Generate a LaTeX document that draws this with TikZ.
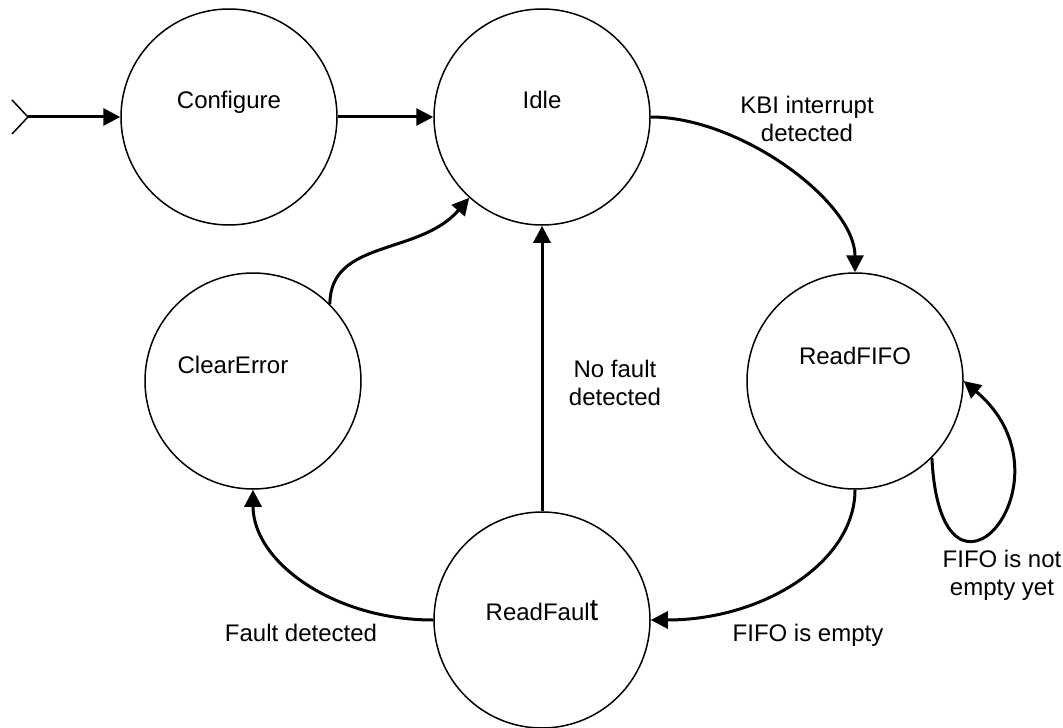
\documentclass[tikz,border=0pt]{standalone}
\usepackage{fontspec}
\setmainfont{Liberation Sans}
\usetikzlibrary{arrows.meta}
\tikzstyle{state} = [circle, minimum size=108pt, inner sep=0pt, draw=black, line width=0.75pt]
\tikzstyle{every label} = [font=\fontsize{12}{14}\selectfont]
\tikzstyle{edgelabel} = [align=center, inner sep=0pt, font=\fontsize{12}{14}\selectfont]
\tikzstyle{arrow} = [line width=1.5pt, -{Triangle[length=8.5pt, width=8.5pt]}]
\begin{document}
\begin{tikzpicture}[x=0.5pt, y=-0.5pt, node distance = 156.5pt]
  \useasboundingbox (0,0) rectangle (1063,727);
  \coordinate (entry) at (28,117);
  \node (configure) [state, label={[yshift=7.5pt]center:Configure}] at (229,117) {};
  \node (idle) [state, right of = configure, label={[yshift=8.5pt]center:Idle}] {};
  \node (readfifo) [state, right of = idle, yshift = -132pt, label={[yshift=12.5pt]center:ReadFIFO}] {};
  \node (clearerror) [state, below of = configure, xshift = 12pt, yshift = 24.5pt, label={[xshift=-10pt, yshift=8pt]center:ClearError}] {};
  \node (readfault) [state, below of = idle, yshift = -95pt, label={[yshift=4.5pt]center:ReadFaul{\fontsize{15.5}{15.5}\selectfont t}}] {};
  \node (kbi) [edgelabel] at (807,119) {KBI interrupt\\detected};
  \node (nofault) [edgelabel] at (615,383) {No fault\\detected};
  \node (notempty) [edgelabel] at (1002,575) {FIFO is not\\empty yet};
  \node (empty) [edgelabel] at (808,635) {FIFO is empty};
  \node (fault) [edgelabel] at (301,633) {Fault detected};
  \draw [line width=0.75pt] (entry) -- ++(-16,-17) (entry) -- ++(-16,17);
  \draw [arrow] (entry) -- (configure);
  \draw [arrow] (configure) -- (idle);
  \draw [arrow] (idle.east) .. controls +(90,0) and +(0,-70) .. (readfifo.north);
  \draw [arrow] (readfifo.-45) .. controls +(9,183) and +(117,99) .. (readfifo.east);
  \draw [arrow] (readfifo.south) .. controls +(0,72) and +(113,0) .. (readfault.east);
  \draw [arrow] (readfault.north) -- (idle.south);
  \draw [arrow] (readfault.west) .. controls +(-100,0) and +(0,72) .. (clearerror.south);
  \draw [arrow] (clearerror.45) .. controls +(0,-65) and +(-50,58) .. (idle.228);
\end{tikzpicture}
\end{document}
